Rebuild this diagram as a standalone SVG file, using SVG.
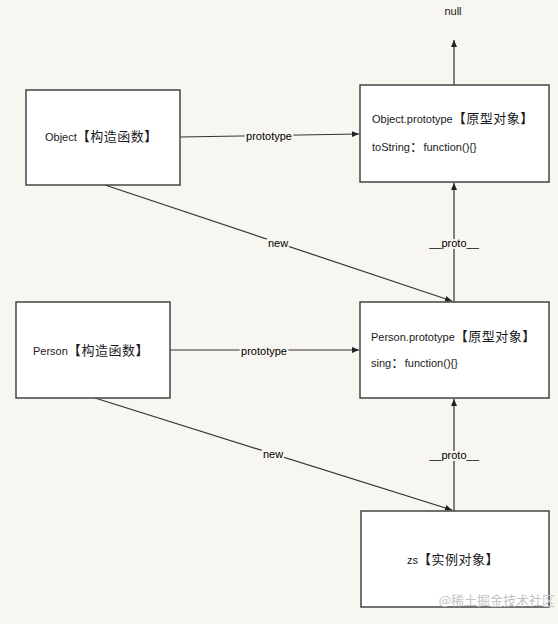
<svg xmlns="http://www.w3.org/2000/svg" width="558" height="624" viewBox="0 0 558 624">
<defs>
<marker id="arr" markerWidth="8" markerHeight="8" refX="7" refY="4" orient="auto" markerUnits="userSpaceOnUse">
<path d="M0,1 L7,4 L0,7 Z" fill="#222"/>
</marker>
<style>
.box{fill:#fff;stroke:#444;stroke-width:1.5}
.t{font-family:"Liberation Sans","Noto Sans CJK SC",sans-serif;font-size:11px;fill:#1a1a1a}
.c{font-family:"Noto Sans CJK SC",sans-serif;font-size:13px;letter-spacing:0.5px}
.b{font-weight:bold}
.lbl{font-family:"Liberation Sans",sans-serif;font-size:11px;fill:#000;text-anchor:middle;paint-order:stroke;stroke:#f8f6f0;stroke-width:4px}
.ln{stroke:#333;stroke-width:1.2;fill:none;marker-end:url(#arr)}
</style>
</defs>
<rect width="558" height="624" fill="#f8f6f0"/>
<g id="connectors">
<line class="ln" x1="180" y1="137" x2="359" y2="134"/>
<line class="ln" x1="105" y1="185" x2="452" y2="301"/>
<line class="ln" x1="454" y1="302" x2="454" y2="183"/>
<line class="ln" x1="170" y1="350" x2="359" y2="350"/>
<line class="ln" x1="95" y1="398" x2="452" y2="510"/>
<line class="ln" x1="454" y1="511" x2="454" y2="399"/>
<line class="ln" x1="454" y1="85" x2="454" y2="40"/>
<text class="lbl" x="269" y="140">prototype</text>
<text class="lbl" x="278" y="247">new</text>
<text class="lbl" x="454" y="247">__proto__</text>
<text class="lbl" x="264" y="355">prototype</text>
<text class="lbl" x="273" y="458">new</text>
<text class="lbl" x="454" y="459">__proto__</text>
</g>
<g id="object">
<rect class="box" x="26" y="90" width="154" height="95"/>
<text class="t" x="45" y="141">Object<tspan class="c"><tspan class="b">【</tspan>构造函数<tspan class="b">】</tspan></tspan></text>
</g>
<g id="object-prototype">
<rect class="box" x="360" y="85" width="189" height="97"/>
<text class="t" x="372" y="123">Object.prototype<tspan class="c"><tspan class="b">【</tspan>原型对象<tspan class="b">】</tspan></tspan></text>
<text class="t" x="372" y="151">toString<tspan class="c">：</tspan>function(){}</text>
</g>
<g id="null">
<text class="t" x="453" y="15" text-anchor="middle">null</text>
</g>
<g id="person">
<rect class="box" x="16" y="302" width="154" height="96"/>
<text class="t" x="33" y="355">Person<tspan class="c"><tspan class="b">【</tspan>构造函数<tspan class="b">】</tspan></tspan></text>
</g>
<g id="person-prototype">
<rect class="box" x="360" y="302" width="189" height="96"/>
<text class="t" x="371" y="341">Person.prototype<tspan class="c"><tspan class="b">【</tspan>原型对象<tspan class="b">】</tspan></tspan></text>
<text class="t" x="371" y="367">sing<tspan class="c">：</tspan>function(){}</text>
</g>
<g id="zs">
<rect class="box" x="361" y="511" width="188" height="96"/>
<text class="t" x="407" y="564">zs<tspan class="c"><tspan class="b">【</tspan>实例对象<tspan class="b">】</tspan></tspan></text>
</g>
<text x="555" y="605" text-anchor="end" font-family="Noto Sans CJK SC,sans-serif" font-size="13" fill="#c4c4c4">@稀土掘金技术社区</text>
</svg>
